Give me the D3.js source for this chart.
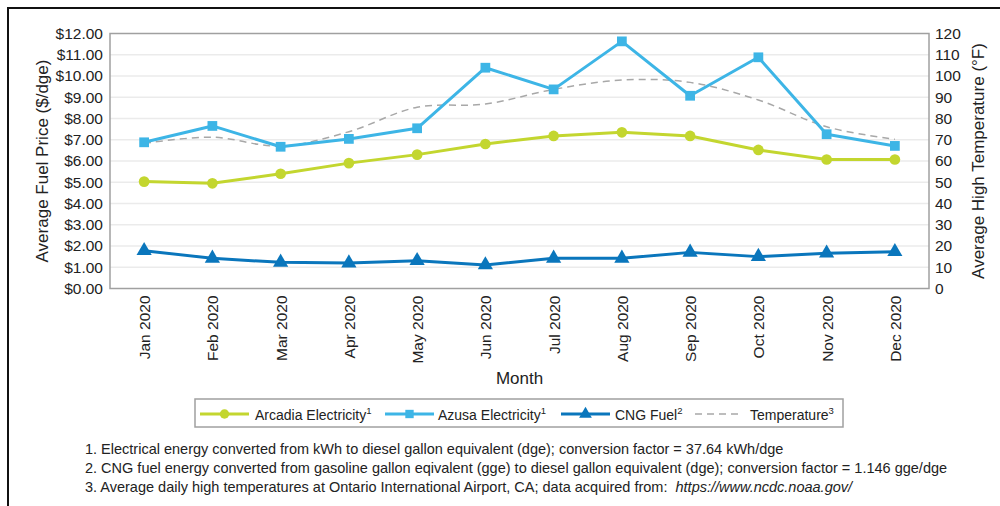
<!DOCTYPE html>
<html>
<head>
<meta charset="utf-8">
<script src="https://cdn.jsdelivr.net/npm/d3@7"></script>
<style>
  html, body { margin: 0; padding: 0; background: #fff; }
  svg { display: block; font-family: "Liberation Sans", Arial, sans-serif; }
</style>
</head>
<body>
<svg id="chart" width="1000" height="506"></svg>
<script>
// Monthly data, 2020
const months = ["Jan 2020", "Feb 2020", "Mar 2020", "Apr 2020", "May 2020", "Jun 2020",
                "Jul 2020", "Aug 2020", "Sep 2020", "Oct 2020", "Nov 2020", "Dec 2020"];
const arcadiaElectricity = [5.03, 4.95, 5.40, 5.90, 6.30, 6.80, 7.18, 7.35, 7.18, 6.52, 6.07, 6.07];
const azusaElectricity   = [6.88, 7.65, 6.67, 7.04, 7.54, 10.39, 9.37, 11.63, 9.07, 10.88, 7.26, 6.71];
const cngFuel            = [1.78, 1.42, 1.23, 1.20, 1.31, 1.11, 1.42, 1.42, 1.70, 1.50, 1.66, 1.73];
const temperature        = [68.3, 71.2, 67.0, 73.8, 85.3, 86.8, 93.7, 98.1, 97.0, 88.7, 76.1, 70.2];

const priceTicks = d3.range(0, 13, 1);        // $0.00 .. $12.00
const tempTicks  = d3.range(0, 121, 10);      // 0 .. 120 °F

const footnotes = [
  "1. Electrical energy converted from kWh to diesel gallon equivalent (dge); conversion factor = 37.64 kWh/dge",
  "2. CNG fuel energy converted from gasoline gallon eqivalent (gge) to diesel gallon equivalent (dge); conversion factor = 1.146 gge/dge",
  "3. Average daily high temperatures at Ontario International Airport, CA; data acquired from:  "
];
const sourceUrl = "https://www.ncdc.noaa.gov/";

const colors = { arcadia: "#c3d62f", azusa: "#3db5e6", cng: "#0a76bc", temp: "#a8a8a8" };

const svg = d3.select("#chart");

// Outer frame (top and left edges)
svg.append("path")
  .attr("d", "M8,506 L8,8 L1000,8")
  .attr("fill", "none").attr("stroke", "#111").attr("stroke-width", 2);

const plot = { left: 110, right: 929, top: 33.5, bottom: 288.5 };

const x = d3.scalePoint().domain(months).range([plot.left, plot.right]).padding(0.5);
const yPrice = d3.scaleLinear().domain([0, 12]).range([plot.bottom, plot.top]);
const yTemp = d3.scaleLinear().domain([0, 120]).range([plot.bottom, plot.top]);

// Gridlines
svg.append("g").selectAll("line").data(priceTicks.slice(1, -1)).join("line")
  .attr("x1", plot.left).attr("x2", plot.right)
  .attr("y1", d => yPrice(d)).attr("y2", d => yPrice(d))
  .attr("stroke", "#ebebeb").attr("stroke-width", 1.5);

// Plot border
svg.append("rect")
  .attr("x", plot.left).attr("y", plot.top)
  .attr("width", plot.right - plot.left).attr("height", plot.bottom - plot.top)
  .attr("fill", "none").attr("stroke", "#a0a0a0").attr("stroke-width", 1.5);

// Left axis
const leftAxis = svg.append("g")
  .attr("transform", `translate(${plot.left},0)`)
  .call(d3.axisLeft(yPrice).tickValues(priceTicks).tickSize(0).tickPadding(7)
    .tickFormat(d => "$" + d3.format(".2f")(d)));
leftAxis.select(".domain").remove();
leftAxis.selectAll("text").attr("font-size", 15.5).attr("fill", "#222")
  .attr("font-family", "Liberation Sans, Arial, sans-serif");

// Right axis
const rightAxis = svg.append("g")
  .attr("transform", `translate(${plot.right},0)`)
  .call(d3.axisRight(yTemp).tickValues(tempTicks).tickSize(0).tickPadding(6));
rightAxis.select(".domain").remove();
rightAxis.selectAll("text").attr("font-size", 15.5).attr("fill", "#222")
  .attr("font-family", "Liberation Sans, Arial, sans-serif");

// Bottom axis with vertical month labels
const bottomAxis = svg.append("g")
  .attr("transform", `translate(0,${plot.bottom})`)
  .call(d3.axisBottom(x).tickSize(0));
bottomAxis.select(".domain").remove();
bottomAxis.selectAll("text")
  .attr("font-size", 15.5).attr("fill", "#222")
  .attr("font-family", "Liberation Sans, Arial, sans-serif")
  .attr("text-anchor", "end")
  .attr("transform", "rotate(-90)")
  .attr("x", -7).attr("y", 0).attr("dy", "0.35em");

// Axis titles
svg.append("text")
  .attr("transform", `translate(48,${(plot.top + plot.bottom) / 2}) rotate(-90)`)
  .attr("text-anchor", "middle").attr("font-size", 17).attr("fill", "#222")
  .text("Average Fuel Price ($/dge)");
svg.append("text")
  .attr("transform", `translate(984,${(plot.top + plot.bottom) / 2}) rotate(-90)`)
  .attr("text-anchor", "middle").attr("font-size", 17).attr("fill", "#222")
  .text("Average High Temperature (°F)");
svg.append("text")
  .attr("x", (plot.left + plot.right) / 2).attr("y", 384)
  .attr("text-anchor", "middle").attr("font-size", 17).attr("fill", "#222")
  .text("Month");

// Series
const priceLine = d3.line().x((d, i) => x(months[i])).y(d => yPrice(d));
const tempLine = d3.line().x((d, i) => x(months[i])).y(d => yTemp(d)).curve(d3.curveCatmullRom.alpha(0.5));

svg.append("path").datum(temperature)
  .attr("d", tempLine).attr("fill", "none")
  .attr("stroke", colors.temp).attr("stroke-width", 1.5).attr("stroke-dasharray", "7,5");

function drawSeries(values, color, shape, size) {
  svg.append("path").datum(values)
    .attr("d", priceLine).attr("fill", "none")
    .attr("stroke", color).attr("stroke-width", 3).attr("stroke-linejoin", "round");
  svg.append("g").selectAll("path").data(values).join("path")
    .attr("transform", (d, i) => `translate(${x(months[i])},${yPrice(d)})`)
    .attr("d", d3.symbol().type(shape).size(size))
    .attr("fill", color);
}
drawSeries(arcadiaElectricity, colors.arcadia, d3.symbolCircle, 90);
drawSeries(azusaElectricity, colors.azusa, d3.symbolSquare, 95);
drawSeries(cngFuel, colors.cng, d3.symbolTriangle, 100);

// Legend
const legend = svg.append("g");
legend.append("rect")
  .attr("x", 195).attr("y", 399).attr("width", 648).attr("height", 28)
  .attr("fill", "#fff").attr("stroke", "#a0a0a0").attr("stroke-width", 1.5);

const legendItems = [
  { label: "Arcadia Electricity", sup: "1", color: colors.arcadia, shape: d3.symbolCircle, x0: 200, tx: 255 },
  { label: "Azusa Electricity", sup: "1", color: colors.azusa, shape: d3.symbolSquare, x0: 385, tx: 438 },
  { label: "CNG Fuel", sup: "2", color: colors.cng, shape: d3.symbolTriangle, x0: 561, tx: 615 },
  { label: "Temperature", sup: "3", color: colors.temp, shape: null, x0: 695, tx: 750 }
];
const ly = 414;
legendItems.forEach(it => {
  if (it.shape) {
    legend.append("line").attr("x1", it.x0).attr("x2", it.x0 + 49)
      .attr("y1", ly).attr("y2", ly).attr("stroke", it.color).attr("stroke-width", 3);
    legend.append("path").attr("transform", `translate(${it.x0 + 24.5},${ly})`)
      .attr("d", d3.symbol().type(it.shape).size(70)).attr("fill", it.color);
  } else {
    legend.append("line").attr("x1", it.x0).attr("x2", it.x0 + 48)
      .attr("y1", ly).attr("y2", ly).attr("stroke", it.color).attr("stroke-width", 1.5)
      .attr("stroke-dasharray", "7,5");
  }
  const t = legend.append("text").attr("x", it.tx).attr("y", ly + 5.5)
    .attr("font-size", 14).attr("fill", "#222");
  t.append("tspan").text(it.label);
  t.append("tspan").attr("font-size", 9.5).attr("dy", -6).text(it.sup);
});

// Footnotes
const notes = svg.append("g");
footnotes.forEach((line, i) => {
  const t = notes.append("text").attr("x", 85).attr("y", 454 + i * 19)
    .attr("font-size", 14.5).attr("fill", "#222").attr("xml:space", "preserve");
  t.append("tspan").text(line);
  if (i === 2) t.append("tspan").attr("font-style", "italic").text(sourceUrl);
});
</script>
</body>
</html>
